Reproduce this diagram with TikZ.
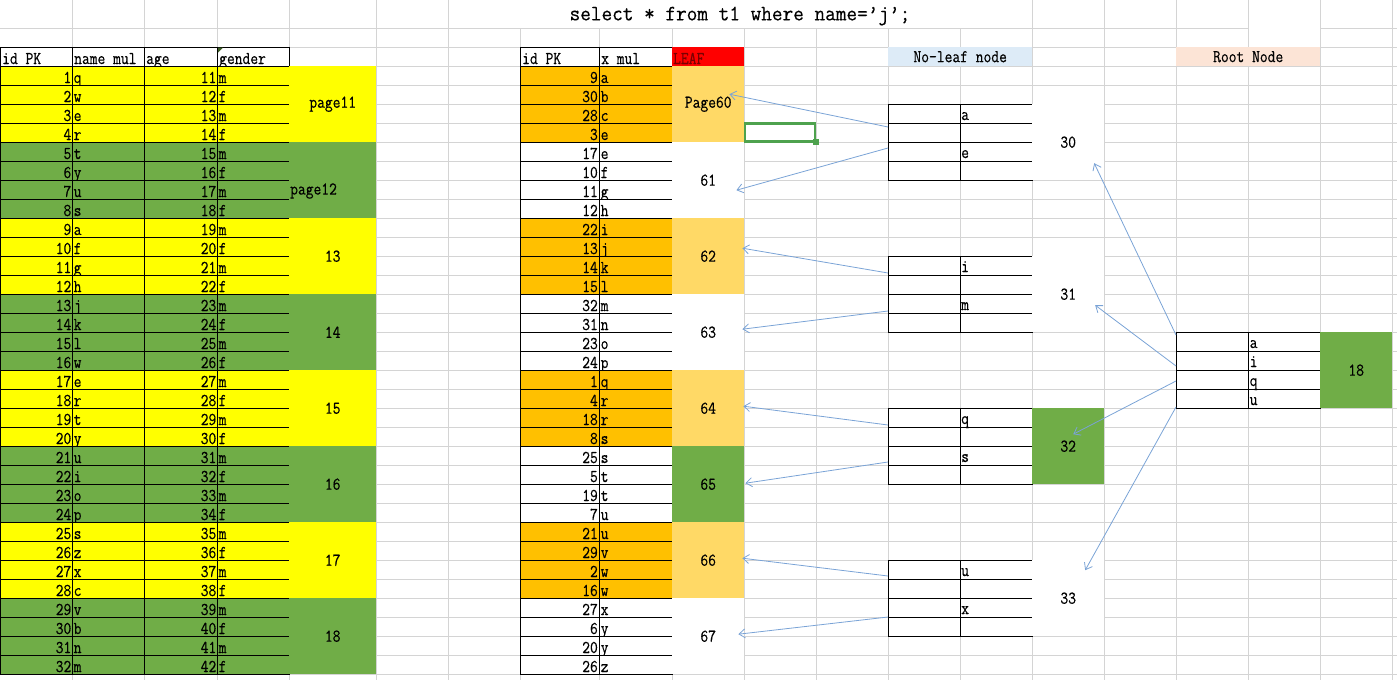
\documentclass[tikz,border=0pt]{standalone}
\usepackage{fontspec}
\newfontfamily\cellfont{lmmono12-regular.otf}[FakeStretch=0.84, FakeBold=0.4]
\newfontfamily\titlefont{lmmono12-regular.otf}[FakeStretch=0.94, FakeBold=0.4]
\usetikzlibrary{arrows.meta}
\definecolor{gridgray}{HTML}{D4D4D4}
\definecolor{xlyellow}{HTML}{FFFF00}
\definecolor{xlgreen}{HTML}{70AD47}
\definecolor{xlorange}{HTML}{FFC000}
\definecolor{xlgold}{HTML}{FFD966}
\definecolor{xlred}{HTML}{FF0000}
\definecolor{xlmaroon}{HTML}{7A0000}
\definecolor{xlblue}{HTML}{DDEBF7}
\definecolor{xlpeach}{HTML}{FCE4D6}
\definecolor{xlarrow}{HTML}{7AA3D6}
\definecolor{xlselect}{HTML}{4EA24E}

\begin{document}
\begin{tikzpicture}[x=1pt, y=-1pt,
    every node/.style={font=\cellfont\fontsize{18}{20}\selectfont, inner sep=0pt},
    gridline/.style={draw=gridgray, line width=0.8pt},
    cellbox/.style={draw=black, line width=0.9pt},
    numtext/.style={anchor=base east},
    strtext/.style={anchor=base west},
    block/.style={anchor=north west, minimum width=#1, minimum height=76pt},
    block/.default=72pt,
    pointer/.style={draw=xlarrow, line width=0.8pt, -{Straight Barb[length=6pt, width=9pt]}}]
    \useasboundingbox (0,0) rectangle (1397,680);
    \foreach \x in {72,144,217,289,376,448,520,599,672,744,816,888,960,1032,1104,1176,1248,1320,1392}
        \draw[gridline] (\x,0) -- (\x,680);
    \foreach \y in {28,47,66,85,...,674}
        \draw[gridline] (0,\y) -- (1397,\y);
    \fill[white] (448.5,0) rectangle (1031.5,27.5);
    \fill[white] (1248.5,0) rectangle (1319.5,47);
    \node[font=\titlefont\fontsize{22}{24}\selectfont] (title) at (740,16) {select * from t1 where name=’j’;};
    \foreach \a/\b in {0/72,72/144,144/217,217/289,520/599,599/672}
        \draw[cellbox, fill=white] (\a,47) rectangle (\b,66);
    \fill[xlgreen!55!black] (218,47.5) -- (223,47.5) -- (218,52.5) -- cycle;
    \foreach \x/\t/\n in {2/id PK/hid, 74/name mul/hname, 146/age/hage, 219/gender/hsex, 522/id PK/kid, 601/x mul/kx}
        \node[strtext] (\n) at (\x,64) {\t};
    \node[block, minimum height=19pt, fill=xlred] (leafhead) at (672,47) {};
    \node[strtext, text=xlmaroon] (leaftxt) at (673,64) {LEAF};
    \node[block=144pt, minimum height=19pt, fill=xlblue] (nlhead) at (888,47) {No-leaf node};
    \node[block=144pt, minimum height=19pt, fill=xlpeach] (roothead) at (1176,47) {Root Node};
    \foreach \nm [count=\r] in {q,w,e,r,t,y,u,s,a,f,g,h,j,k,l,w,e,r,t,y,u,i,o,p,s,z,x,c,v,b,n,m}{
        \pgfmathtruncatemacro\rowtop{66+19*(\r-1)}
        \pgfmathtruncatemacro\age{\r+10}
        \pgfmathtruncatemacro\grp{mod(int((\r-1)/4),2)}
        \ifnum\grp=0 \def\rowfill{xlyellow}\else\def\rowfill{xlgreen}\fi
        \foreach \a/\b in {0/72,72/144,144/217,217/289}
            \draw[cellbox, fill=\rowfill] (\a,\rowtop) rectangle (\b,\rowtop+19);
        \node[numtext] (id\r) at (71.5,\rowtop+17) {\r};
        \node[strtext] (name\r) at (73.5,\rowtop+17) {\nm};
        \node[numtext] (age\r) at (216.5,\rowtop+17) {\age};
        \node[strtext] (sex\r) at (218.5,\rowtop+17) {\ifodd\r\relax m\else f\fi};
    }
    \foreach \lab [count=\k] in {page11,page12,13,14,15,16,17,18}{
        \pgfmathtruncatemacro\grp{mod(\k-1,2)}
        \pgfmathtruncatemacro\rowtop{66+76*(\k-1)}
        \ifnum\grp=0 \def\rowfill{xlyellow}\else\def\rowfill{xlgreen}\fi
        \node[block=87pt, fill=\rowfill] (page\k) at (289,\rowtop) {};
        \ifnum\k=2
            \node[anchor=west] (pagelab\k) at (290,191) {\lab};
        \else
            \node (pagelab\k) at (page\k.center) {\lab};
        \fi
    }
    \foreach \id/\nm [count=\r] in {9/a,30/b,28/c,3/e,17/e,10/f,11/g,12/h,22/i,13/j,14/k,15/l,32/m,31/n,23/o,24/p,
                                    1/q,4/r,18/r,8/s,25/s,5/t,19/t,7/u,21/u,29/v,2/w,16/w,27/x,6/y,20/y,26/z}{
        \pgfmathtruncatemacro\rowtop{66+19*(\r-1)}
        \pgfmathtruncatemacro\grp{mod(int((\r-1)/4),2)}
        \ifnum\grp=0 \def\rowfill{xlorange}\else\def\rowfill{white}\fi
        \foreach \a/\b in {520/599,599/672}
            \draw[cellbox, fill=\rowfill] (\a,\rowtop) rectangle (\b,\rowtop+19);
        \node[numtext] (kid\r) at (598,\rowtop+17) {\id};
        \node[strtext] (kx\r) at (600.5,\rowtop+17) {\nm};
    }
    \foreach \n/\c [count=\k] in {Page60/xlgold,61/white,62/xlgold,63/white,64/xlgold,65/xlgreen,66/xlgold,67/white}
        \node[block, fill=\c] (leaf\k) at (672,{66+76*(\k-1)}) {\n};
    \draw[xlselect, line width=2.4pt] (745,123.5) rectangle (815,141.5);
    \fill[xlselect] (813,139) rectangle (818.5,144.5);
    \foreach \rowtop/\ka/\kb [count=\k] in {104/a/e,256/i/m,408/q/s,560/u/x}{
        \node[block=144pt, cellbox, fill=white] (nl\k) at (888,\rowtop) {};
        \draw[cellbox] (nl\k.north) -- (nl\k.south);
        \foreach \d in {19,38,57}
            \draw[cellbox] (888,\rowtop+\d) -- (1032,\rowtop+\d);
        \node[strtext] (nla\k) at (961,\rowtop+16) {\ka};
        \node[strtext] (nlb\k) at (961,\rowtop+54) {\kb};
    }
    \foreach \n/\c [count=\k] in {30/white,31/white,32/xlgreen,33/white}
        \node[block, fill=\c] (nn\k) at (1032,{104+152*(\k-1)}) {\n};
    \node[block=144pt, cellbox, fill=white] (root) at (1176,332) {};
    \draw[cellbox] (root.north) -- (root.south);
    \foreach \d in {19,38,57}
        \draw[cellbox] (1176,332+\d) -- (1320,332+\d);
    \foreach \ka [count=\k] in {a,i,q,u}
        \node[strtext] (rootkey\k) at (1249.5,332+19*\k-3) {\ka};
    \node[block, fill=xlgreen] (root18) at (1320,332) {18};
    \draw[pointer] ([shift={(0,23)}]nl1.north west) -- ([shift={(-15,-10)}]leaf1.east);
    \draw[pointer] ([shift={(0,44)}]nl1.north west) -- ([shift={(-8,10)}]leaf2.east);
    \draw[pointer] ([shift={(0,17)}]nl2.north west) -- ([shift={(-2,-8)}]leaf3.east);
    \draw[pointer] ([shift={(0,55)}]nl2.north west) -- ([shift={(-2,-3)}]leaf4.east);
    \draw[pointer] ([shift={(0,17)}]nl3.north west) -- ([shift={(-1,-2)}]leaf5.east);
    \draw[pointer] ([shift={(0,54)}]nl3.north west) -- ([shift={(1,-1)}]leaf6.east);
    \draw[pointer] ([shift={(0,16)}]nl4.north west) -- ([shift={(-2,-2)}]leaf7.east);
    \draw[pointer] ([shift={(0,57)}]nl4.north west) -- ([shift={(-6,-2)}]leaf8.east);
    \draw[pointer] ([shift={(0,3)}]root.north west) -- ([shift={(26,21)}]nn1.center);
    \draw[pointer] ([shift={(0,34)}]root.north west) -- ([shift={(27,11)}]nn2.center);
    \draw[pointer] ([shift={(0,49)}]root.north west) -- ([shift={(5,-12)}]nn3.center);
    \draw[pointer] ([shift={(0,75)}]root.north west) -- ([shift={(17,-28)}]nn4.center);
\end{tikzpicture}
\end{document}
